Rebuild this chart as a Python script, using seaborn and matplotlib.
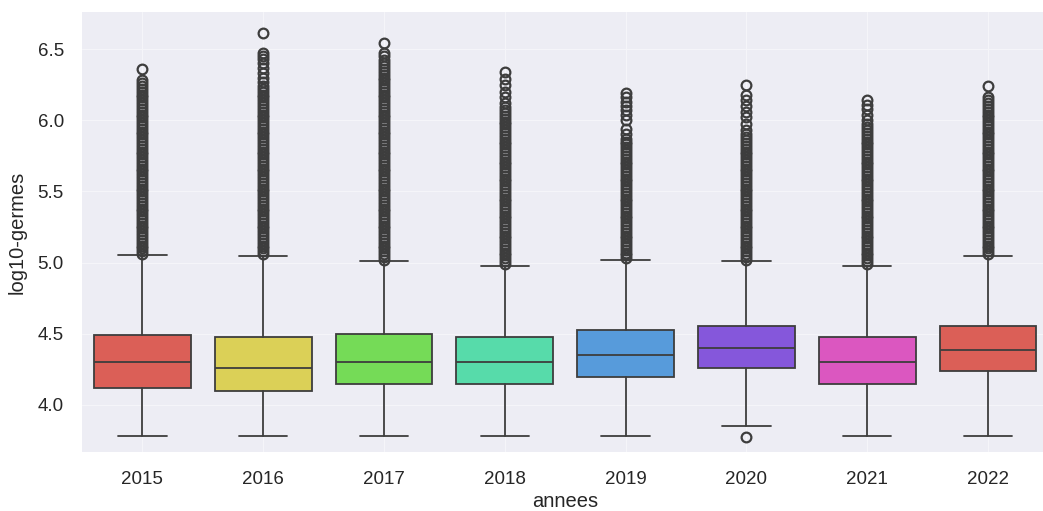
import matplotlib
matplotlib.use("Agg")
import matplotlib.pyplot as plt
import seaborn as sns

# Yearly distribution summaries of log10(germes)
annees = ["2015", "2016", "2017", "2018", "2019", "2020", "2021", "2022"]
q1 = [4.12, 4.10, 4.145, 4.145, 4.20, 4.26, 4.145, 4.24]
medianes = [4.30, 4.26, 4.30, 4.30, 4.35, 4.40, 4.30, 4.385]
q3 = [4.49, 4.475, 4.50, 4.475, 4.53, 4.556, 4.475, 4.556]
moustache_basse = [3.78, 3.78, 3.78, 3.78, 3.78, 3.85, 3.78, 3.78]
moustache_haute = [5.05, 5.045, 5.01, 4.975, 5.02, 5.01, 4.975, 5.045]

# Outlying observations per year
aberrants_2015 = [5.06, 5.08, 5.10, 5.12, 5.14, 5.16, 5.18, 5.20, 5.22, 5.24,
                  5.26, 5.28, 5.30, 5.32, 5.34, 5.36, 5.38, 5.40, 5.42, 5.44,
                  5.46, 5.48, 5.50, 5.52, 5.54, 5.56, 5.58, 5.60, 5.62, 5.64,
                  5.66, 5.68, 5.70, 5.72, 5.74, 5.76, 5.78, 5.80, 5.82, 5.84,
                  5.86, 5.88, 5.90, 5.92, 5.94, 5.96, 5.98, 6.00, 6.02, 6.04,
                  6.06, 6.08, 6.10, 6.12, 6.14, 6.16, 6.18, 6.20, 6.22, 6.24,
                  6.26, 6.28, 6.36]
aberrants_2016 = [5.06, 5.08, 5.10, 5.12, 5.14, 5.16, 5.18, 5.20, 5.22, 5.24,
                  5.26, 5.28, 5.30, 5.32, 5.34, 5.36, 5.38, 5.40, 5.42, 5.44,
                  5.46, 5.48, 5.50, 5.52, 5.54, 5.56, 5.58, 5.60, 5.62, 5.64,
                  5.66, 5.68, 5.70, 5.72, 5.74, 5.76, 5.78, 5.80, 5.82, 5.84,
                  5.86, 5.88, 5.90, 5.92, 5.94, 5.96, 5.98, 6.00, 6.02, 6.04,
                  6.06, 6.08, 6.10, 6.12, 6.14, 6.16, 6.18, 6.20, 6.22, 6.24,
                  6.27, 6.30, 6.33, 6.37, 6.40, 6.43, 6.45, 6.47, 6.61]
aberrants_2017 = [5.02, 5.04, 5.06, 5.08, 5.10, 5.12, 5.14, 5.16, 5.18, 5.20,
                  5.22, 5.24, 5.26, 5.28, 5.30, 5.32, 5.34, 5.36, 5.38, 5.40,
                  5.42, 5.44, 5.46, 5.48, 5.50, 5.52, 5.54, 5.56, 5.58, 5.60,
                  5.62, 5.64, 5.66, 5.68, 5.70, 5.72, 5.74, 5.76, 5.78, 5.80,
                  5.82, 5.84, 5.86, 5.88, 5.90, 5.92, 5.94, 5.96, 5.98, 6.00,
                  6.02, 6.04, 6.06, 6.08, 6.10, 6.12, 6.14, 6.16, 6.18, 6.20,
                  6.22, 6.24, 6.26, 6.28, 6.30, 6.32, 6.34, 6.36, 6.38, 6.40,
                  6.42, 6.45, 6.47, 6.54]
aberrants_2018 = [4.99, 5.01, 5.03, 5.05, 5.07, 5.09, 5.11, 5.13, 5.15, 5.17,
                  5.19, 5.21, 5.23, 5.25, 5.27, 5.29, 5.31, 5.33, 5.35, 5.37,
                  5.39, 5.41, 5.43, 5.45, 5.47, 5.49, 5.51, 5.53, 5.55, 5.57,
                  5.59, 5.61, 5.63, 5.65, 5.67, 5.69, 5.71, 5.73, 5.75, 5.77,
                  5.79, 5.81, 5.83, 5.85, 5.87, 5.89, 5.91, 5.93, 5.95, 5.97,
                  5.99, 6.01, 6.03, 6.05, 6.07, 6.09, 6.12, 6.16, 6.20, 6.25,
                  6.29, 6.34]
aberrants_2019 = [5.03, 5.05, 5.07, 5.09, 5.11, 5.13, 5.15, 5.17, 5.19, 5.21,
                  5.23, 5.25, 5.27, 5.29, 5.31, 5.33, 5.35, 5.37, 5.39, 5.41,
                  5.43, 5.45, 5.47, 5.49, 5.51, 5.53, 5.55, 5.57, 5.59, 5.61,
                  5.63, 5.65, 5.67, 5.69, 5.71, 5.73, 5.75, 5.77, 5.79, 5.81,
                  5.83, 5.85, 5.87, 5.90, 5.94, 6.00, 6.04, 6.07, 6.10, 6.13,
                  6.16, 6.19]
aberrants_2020 = [3.775,
                  5.02, 5.04, 5.06, 5.08, 5.10, 5.12, 5.14, 5.16, 5.18, 5.20,
                  5.22, 5.24, 5.26, 5.28, 5.30, 5.32, 5.34, 5.36, 5.38, 5.40,
                  5.42, 5.44, 5.46, 5.48, 5.50, 5.52, 5.54, 5.56, 5.58, 5.60,
                  5.62, 5.64, 5.66, 5.68, 5.70, 5.72, 5.74, 5.76, 5.78, 5.80,
                  5.82, 5.84, 5.86, 5.88, 5.90, 5.93, 5.97, 6.02, 6.06, 6.10,
                  6.14, 6.18, 6.25]
aberrants_2021 = [4.99, 5.01, 5.03, 5.05, 5.07, 5.09, 5.11, 5.13, 5.15, 5.17,
                  5.19, 5.21, 5.23, 5.25, 5.27, 5.29, 5.31, 5.33, 5.35, 5.37,
                  5.39, 5.41, 5.43, 5.45, 5.47, 5.49, 5.51, 5.53, 5.55, 5.57,
                  5.59, 5.61, 5.63, 5.65, 5.67, 5.69, 5.71, 5.73, 5.75, 5.77,
                  5.79, 5.81, 5.83, 5.85, 5.87, 5.89, 5.91, 5.93, 5.95, 5.97,
                  6.00, 6.04, 6.08, 6.11, 6.14]
aberrants_2022 = [5.06, 5.08, 5.10, 5.12, 5.14, 5.16, 5.18, 5.20, 5.22, 5.24,
                  5.26, 5.28, 5.30, 5.32, 5.34, 5.36, 5.38, 5.40, 5.42, 5.44,
                  5.46, 5.48, 5.50, 5.52, 5.54, 5.56, 5.58, 5.60, 5.62, 5.64,
                  5.66, 5.68, 5.70, 5.72, 5.74, 5.76, 5.78, 5.80, 5.82, 5.84,
                  5.86, 5.88, 5.90, 5.92, 5.94, 5.96, 5.98, 6.00, 6.02, 6.04,
                  6.06, 6.08, 6.10, 6.12, 6.14, 6.16, 6.24]
aberrants = [aberrants_2015, aberrants_2016, aberrants_2017, aberrants_2018,
             aberrants_2019, aberrants_2020, aberrants_2021, aberrants_2022]

sns.set_theme(style="darkgrid", rc={
    "axes.facecolor": "#EDEDF4",
    "grid.color": "#F5F5F9",
    "grid.linewidth": 0.8,
})
plt.rcParams["font.family"] = ["Liberation Sans", "DejaVu Sans"]

palette = sns.color_palette("hls", 7)
couleurs = [palette[i % len(palette)] for i in range(len(annees))]

stats = [
    {"label": a, "med": m, "q1": b, "q3": h,
     "whislo": wl, "whishi": wh, "fliers": f}
    for a, m, b, h, wl, wh, f in zip(annees, medianes, q1, q3,
                                      moustache_basse, moustache_haute, aberrants)
]

fig = plt.figure(figsize=(10.43, 5.11), dpi=100)
ax = fig.add_axes([0.0786, 0.1155, 0.9266, 0.861])

trait = "#3d3d3d"
lw = 1.3
bp = ax.bxp(
    stats, positions=list(range(len(annees))), widths=0.8, capwidths=0.4,
    patch_artist=True, showfliers=True,
    boxprops=dict(edgecolor=trait, linewidth=lw),
    medianprops=dict(color=trait, linewidth=lw),
    whiskerprops=dict(color=trait, linewidth=lw),
    capprops=dict(color=trait, linewidth=lw),
    flierprops=dict(marker="o", markersize=7.0, markerfacecolor="none",
                    markeredgecolor=trait, markeredgewidth=1.6, linestyle="none"),
)
for patch, c in zip(bp["boxes"], couleurs):
    patch.set_facecolor(c)

ax.set_xlim(-0.5, len(annees) - 0.5)
ax.set_ylim(3.67, 6.76)
ax.set_yticks([4.0, 4.5, 5.0, 5.5, 6.0, 6.5])
ax.set_xticks(list(range(len(annees))))
ax.set_xticklabels(annees)
ax.tick_params(axis="both", labelsize=13.5, colors="#262626", length=0)
ax.tick_params(axis="x", pad=14)
ax.tick_params(axis="y", pad=13)
ax.set_xlabel("annees", fontsize=14.5, color="#262626", labelpad=2.5)
ax.set_ylabel("log10-germes", fontsize=14.5, color="#262626", labelpad=8)
for s in ax.spines.values():
    s.set_visible(False)

fig.savefig("out.png", dpi=100)
